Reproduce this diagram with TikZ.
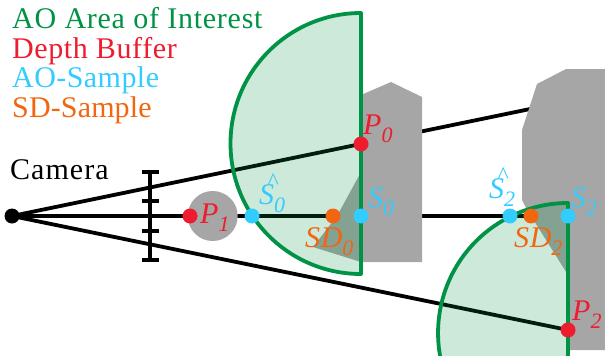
\documentclass[tikz,border=0pt]{standalone}
\usepackage{fontspec}
\setmainfont[LetterSpace=2]{Liberation Serif}
\pgfdeclarelayer{lines}
\pgfdeclarelayer{solids}
\pgfdeclarelayer{areas}
\pgfsetlayers{lines,solids,areas,main}
\definecolor{aogreen}{RGB}{0,146,69}
\definecolor{dbred}{RGB}{237,28,46}
\definecolor{aoblue}{RGB}{51,204,255}
\definecolor{sdorange}{RGB}{242,101,17}
\definecolor{solidgray}{RGB}{166,166,166}
\newcommand\sublbl[2]{\textit{#1\raisebox{-8pt}{\fontsize{22}{22}\selectfont #2}}}
\newcommand\hatlbl[1]{\textit{\rlap{\hspace{8pt}\raisebox{15pt}{\fontsize{24}{24}\selectfont\textasciicircum}}S\raisebox{-8pt}{\fontsize{22}{22}\selectfont #1}}}
\tikzset{
  txt/.style={inner sep=0pt,anchor=base west,font=\fontsize{30}{30}\selectfont},
  dot/.style={circle,inner sep=0pt,minimum size=15pt,fill=#1},
  ray/.style={line width=3.8pt,black},
  tick/.style={line width=3.8pt,black},
  solidshape/.style={fill=solidgray,draw=none},
  aoarea/.style={fill=aogreen,fill opacity=0.2,draw=none},
  aoedge/.style={draw=aogreen,line width=3.8pt,line join=round}
}
\begin{document}
\begin{tikzpicture}[x=1pt,y=-1pt]
\useasboundingbox (0,0) rectangle (605,356);
% legend
\node[txt,text=aogreen] (l1) at (12,28) {\addfontfeature{LetterSpace=2.5}AO Area of Interest};
\node[txt,text=dbred] (l2) at (12,58) {Depth Buffer};
\node[txt,text=aoblue] (l3) at (12,87) {\addfontfeature{LetterSpace=1.5}AO-Sample};
\node[txt,text=sdorange] (l4) at (12,117) {\addfontfeature{LetterSpace=0.5}SD-Sample};
\node[txt] (camlbl) at (10,179) {\addfontfeature{LetterSpace=3.5}Camera};
% dots
\node[dot=black] (cam) at (12,216) {};
\node[dot=dbred] (p0) at (361,144) {};
\node[dot=dbred] (p1) at (190,216) {};
\node[dot=dbred] (p2) at (568,330) {};
\node[dot=aoblue] (sh0) at (252,216) {};
\node[dot=sdorange] (sd0) at (333,216) {};
\node[dot=aoblue] (s0) at (361,216) {};
\node[dot=aoblue] (sh2) at (510,216) {};
\node[dot=sdorange] (sd2) at (531,216) {};
\node[dot=aoblue] (s2) at (568,216) {};
\coordinate (far0) at (535,108);
\coordinate (t1) at (150,172);
\coordinate (t2) at (150,201);
\coordinate (t3) at (150,231);
\coordinate (t4) at (150,260);
% labels
\node[txt,text=dbred] (lp0) at (363,134) {\sublbl{P}{0}};
\node[txt,text=dbred] (lp1) at (200,223) {\sublbl{P}{1}};
\node[txt,text=dbred] (lp2) at (572,320) {\sublbl{P}{2}};
\node[txt,text=aoblue] (lsh0) at (259,204) {\hatlbl{0}};
\node[txt,text=aoblue] (ls0) at (368,207) {\sublbl{S}{0}};
\node[txt,text=sdorange] (lsd0) at (305,247) {\sublbl{SD}{0}};
\node[txt,text=aoblue] (lsh2) at (489,198) {\hatlbl{2}};
\node[txt,text=aoblue] (ls2) at (571,207) {\sublbl{S}{2}};
\node[txt,text=sdorange] (lsd2) at (514,247) {\sublbl{SD}{2}};
\begin{pgfonlayer}{lines}
\draw[ray] (cam.center) -- (far0);
\draw[ray] (cam.center) -- (s2.center);
\draw[ray] (cam.center) -- (p2.center);
\draw[tick] (t1) -- (t4);
\foreach \t in {t1,t2,t3,t4}
  \draw[tick] ([xshift=-8.5pt]\t) -- ([xshift=8.5pt]\t);
\end{pgfonlayer}
\begin{pgfonlayer}{solids}
\fill[solidgray] (212.7,216) circle[radius=25];
\path[solidshape] (361,95) -- (391,82) -- (422,97) -- (422,262) -- (361,262) -- (313,247) -- (337,216) -- (361,172) -- cycle;
\path[solidshape] (537,84) -- (566,69) -- (605,69) -- (605,350) -- (568,350) -- (568,275) -- (526,208) -- (522,200) -- (522,130) -- cycle;
\end{pgfonlayer}
\begin{pgfonlayer}{areas}
\path[aoarea] (361,13) arc[start angle=270,end angle=90,radius=130.5] -- cycle;
\draw[aoedge] (361,13) arc[start angle=270,end angle=90,radius=130.5] -- cycle;
\path[aoarea] (568,203) arc[start angle=270,end angle=169.8,radius=130] -- (568,356) -- cycle;
\draw[aoedge] (440.1,356) arc[start angle=169.8,end angle=270,radius=130] -- (568,356);
\end{pgfonlayer}
\end{tikzpicture}
\end{document}
